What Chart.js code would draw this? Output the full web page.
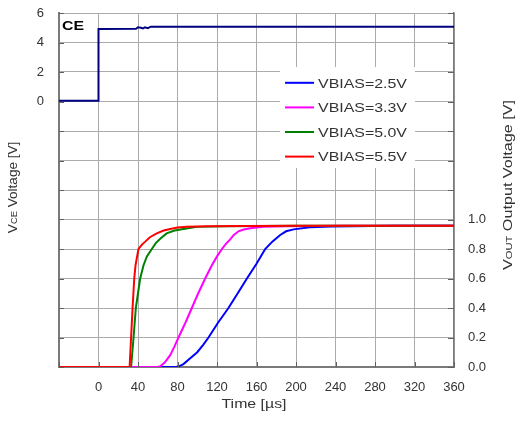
<!DOCTYPE html>
<html>
<head>
<meta charset="utf-8">
<script src="https://cdn.jsdelivr.net/npm/chart.js@4.4.1/dist/chart.umd.min.js"></script>
<style>
html,body{margin:0;padding:0;background:#fff;}
canvas{display:block;}
</style>
</head>
<body>
<canvas id="c" width="518" height="427"></canvas>
<script>
// ---- data (time in µs) ----
const ceTime = [-40, 0, 0, 38, 40, 43, 45, 47, 50, 53, 360];
const ceVolt = [0.05, 0.05, 4.92, 4.93, 5.03, 5.0, 4.95, 5.03, 4.97, 5.07, 5.07];

const seriesLabels = ['VBIAS=2.5V', 'VBIAS=3.3V', 'VBIAS=5.0V', 'VBIAS=5.5V'];

const t25 = [-40, 78, 81, 86, 92.9, 100, 106, 111.4, 121, 131.6, 141, 150.3, 160, 168.8, 176, 184, 190, 197.5, 214, 236, 300, 360];
const v25 = [0, 0, 0.003, 0.02, 0.06, 0.1, 0.15, 0.2, 0.3, 0.4, 0.5, 0.6, 0.7, 0.8, 0.85, 0.895, 0.92, 0.933, 0.947, 0.953, 0.957, 0.958];

const t33 = [-40, 60, 62.5, 67, 72.6, 77, 81, 88, 94.5, 101, 108, 114.8, 120, 125, 129, 133.4, 137, 141.8, 147, 153.6, 166.8, 190, 250, 360];
const v33 = [0, 0, 0.005, 0.03, 0.08, 0.14, 0.2, 0.3, 0.4, 0.5, 0.6, 0.69, 0.75, 0.8, 0.835, 0.865, 0.895, 0.92, 0.932, 0.94, 0.95, 0.955, 0.957, 0.958];

const t50 = [-40, 33, 35.5, 37.8, 40, 42.2, 45.6, 49, 54, 58, 62.5, 69, 77, 86, 99.6, 130, 200, 360];
const v50 = [0, 0, 0.2, 0.4, 0.5, 0.6, 0.69, 0.75, 0.8, 0.84, 0.87, 0.906, 0.925, 0.936, 0.95, 0.955, 0.957, 0.958];

const t55 = [-40, 31.5, 33, 34.5, 36.2, 37.5, 40.5, 44, 47.3, 52, 59, 66, 72.6, 80, 89.5, 110, 150, 200, 250, 300, 360];
const v55 = [0, 0, 0.2, 0.4, 0.6, 0.69, 0.8, 0.83, 0.85, 0.88, 0.906, 0.925, 0.936, 0.945, 0.951, 0.955, 0.956, 0.957, 0.958, 0.958, 0.958];

const seriesColors = ['#0000ff', '#ff00ff', '#008000', '#ff0000'];

const leftTicksShownMin = 0;   // left axis labels only for >= 0
const rightTicksShownMax = 1.0; // right axis labels only for <= 1.0

// ---- helpers ----
const zip = (xs, ys) => xs.map((x, i) => ({x: x, y: ys[i]}));
const FONT = "'Liberation Sans', Arial, sans-serif";
const TXT = '#333333';
const GRID = '#ababab';
const AXIS = '#7a7a7a';

function drawParts(ctx, parts, x, y, rot, align, targetW) {
  ctx.save();
  const widths = parts.map(p => { ctx.font = p.font; return ctx.measureText(p.text).width; });
  const total = widths.reduce((a, b) => a + b, 0);
  const s = targetW ? targetW / total : 1;
  ctx.translate(x, y);
  ctx.rotate(rot);
  ctx.scale(s, 1);
  let cx = align === 'center' ? -total / 2 : 0;
  ctx.textAlign = 'left';
  ctx.textBaseline = 'alphabetic';
  parts.forEach((p, i) => {
    ctx.font = p.font;
    ctx.fillStyle = p.color || TXT;
    ctx.fillText(p.text, cx, 0);
    cx += widths[i];
  });
  ctx.restore();
}

const decor = {
  id: 'decor',
  afterDatasetsDraw(chart) {
    const ctx = chart.ctx;
    const ca = chart.chartArea;
    const sx = chart.scales.x, sy = chart.scales.y, sy1 = chart.scales.y1;
    // inward tick marks
    ctx.save();
    ctx.strokeStyle = '#606060';
    ctx.lineWidth = 1;
    ctx.beginPath();
    sy.ticks.forEach(t => {
      const py = Math.round(sy.getPixelForValue(t.value)) + 0.5;
      ctx.moveTo(ca.left, py); ctx.lineTo(ca.left + 5, py);
    });
    sy1.ticks.forEach(t => {
      const py = Math.round(sy1.getPixelForValue(t.value)) + 0.5;
      ctx.moveTo(ca.right - 6, py); ctx.lineTo(ca.right, py);
    });
    sx.ticks.forEach(t => {
      const px = Math.round(sx.getPixelForValue(t.value)) + 0.5;
      ctx.moveTo(px, ca.bottom); ctx.lineTo(px, ca.bottom - 5);
    });
    ctx.stroke();
    ctx.restore();

    // legend box
    ctx.save();
    ctx.fillStyle = '#ffffff';
    ctx.fillRect(280, 67, 135, 101);
    seriesLabels.forEach((lab, i) => {
      const cy = 82.8 + i * 24.6;
      ctx.strokeStyle = seriesColors[i];
      ctx.lineWidth = 2;
      ctx.beginPath();
      ctx.moveTo(285, cy); ctx.lineTo(314, cy);
      ctx.stroke();
      drawParts(ctx, [{text: lab, font: '13px ' + FONT}], 318, cy + 4.7, 0, 'left', 89);
    });
    ctx.restore();

    // CE label
    drawParts(ctx, [{text: 'CE', font: 'bold 13px ' + FONT, color: '#000'}], 62, 30.2, 0, 'left', 22);

    // axis titles
    drawParts(ctx, [
      {text: 'V', font: '13px ' + FONT},
      {text: 'CE', font: '9px ' + FONT},
      {text: ' Voltage [V]', font: '13px ' + FONT}
    ], 17.3, 187.4, -Math.PI / 2, 'center', 91.5);
    drawParts(ctx, [
      {text: 'V', font: '13px ' + FONT},
      {text: 'OUT', font: '9px ' + FONT},
      {text: ' Output Voltage [V]', font: '13px ' + FONT}
    ], 512, 185, -Math.PI / 2, 'center', 170);
    drawParts(ctx, [{text: 'Time [µs]', font: '13px ' + FONT}], 254, 408.3, 0, 'center', 65);
  }
};

const outTimes = [t25, t33, t50, t55];
const outVals = [v25, v33, v50, v55];
const datasets = [{
  label: 'CE', data: zip(ceTime, ceVolt), yAxisID: 'y', borderColor: '#000080', order: 0
}];
seriesLabels.forEach((lab, i) => {
  datasets.push({label: lab, data: zip(outTimes[i], outVals[i]), yAxisID: 'y1', borderColor: seriesColors[i], order: 4 - i});
});

const tickFont = {family: FONT, size: 13};
const noPad = s => { s.paddingTop = 0; s.paddingBottom = 0; s.paddingLeft = 0; s.paddingRight = 0; };

new Chart(document.getElementById('c').getContext('2d'), {
  type: 'line',
  data: {datasets: datasets},
  options: {
    responsive: false,
    animation: false,
    events: [],
    elements: {point: {radius: 0}, line: {borderWidth: 2, tension: 0, fill: false}},
    layout: {padding: {top: 13, left: 0, right: 0, bottom: 0}},
    plugins: {legend: {display: false}, tooltip: {enabled: false}},
    scales: {
      x: {
        type: 'linear', min: -40, max: 360,
        ticks: {stepSize: 40, autoSkip: false, maxRotation: 0, padding: 13, font: tickFont, color: TXT,
          callback: v => (v >= 0 ? String(v) : '')},
        grid: {color: GRID, drawTicks: false},
        border: {color: AXIS, width: 2},
        afterFit: s => { s.height = 60; noPad(s); }
      },
      y: {
        position: 'left', min: -18, max: 6,
        ticks: {stepSize: 2, padding: 15, font: tickFont, color: TXT,
          callback: v => (v >= leftTicksShownMin ? String(v) : '')},
        grid: {color: GRID, drawTicks: false},
        border: {color: AXIS, width: 2},
        afterFit: s => { s.width = 59; noPad(s); }
      },
      y1: {
        position: 'right', min: 0, max: 2.4,
        ticks: {stepSize: 0.2, padding: 14, font: tickFont, color: TXT,
          callback: v => (v <= rightTicksShownMax + 1e-6 ? Number(v).toFixed(1) : '')},
        grid: {display: false, drawTicks: false},
        border: {color: AXIS, width: 1.5},
        afterFit: s => { s.width = 64; noPad(s); }
      }
    }
  },
  plugins: [decor]
});
</script>
</body>
</html>
